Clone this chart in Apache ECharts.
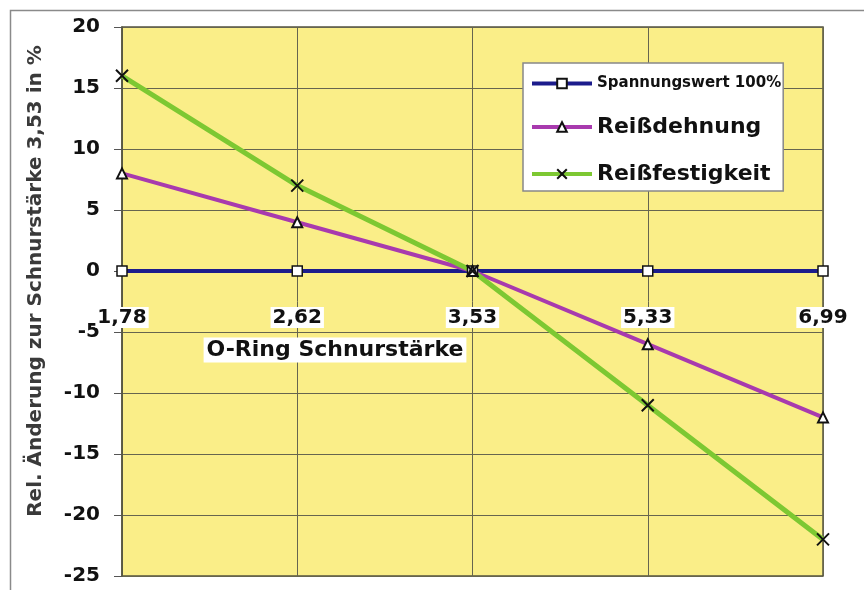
<!DOCTYPE html>
<html>
<head>
<meta charset="utf-8">
<script src="https://cdn.jsdelivr.net/npm/echarts@6/dist/echarts.min.js"></script>
<style>
  html, body { margin: 0; padding: 0; background: #ffffff; overflow: hidden; }
  #chart { width: 864px; height: 590px; }
</style>
</head>
<body>
<div id="chart"></div>
<script>
// O-ring cord diameters (mm) on the category axis
const categories = ['1,78', '2,62', '3,53', '5,33', '6,99'];

// Relative change versus the 3,53 mm cord, in %
const spannungswert = [0, 0, 0, 0, 0];
const reissdehnung = [8, 4, 0, -6, -12];
const reissfestigkeit = [16, 7, 0, -11, -22];

// Value axis range and step
const yMin = -25;
const yMax = 20;
const yStep = 5;

const seriesNames = ['Spannungswert 100%', 'Reißdehnung', 'Reißfestigkeit'];

const FONT = 'DejaVu Sans';
const crossPath = 'path://M0,0L10,10M10,0L0,10';
const gridLineColor = '#66654f';

// plot rectangle
const GRID_TOP = 27;
const GRID_BOTTOM = 14;
const CHART_H = 590;
const plotH = CHART_H - GRID_TOP - GRID_BOTTOM;
// distance from the bottom edge of the plot up to the zero line
const zeroLift = plotH * (0 - yMin) / (yMax - yMin);

const chart = echarts.init(document.getElementById('chart'), null, { renderer: 'canvas' });

chart.setOption({
  backgroundColor: '#ffffff',
  animation: false,
  graphic: [
    // outer frame (top and left edges)
    {
      type: 'polyline',
      shape: { points: [[10.5, 600], [10.5, 10.5], [870, 10.5]] },
      style: { fill: 'none', stroke: '#8a8a8a', lineWidth: 1.5 },
      z: 0
    },
    {
      type: 'text',
      x: 36,
      y: 281,
      rotation: Math.PI / 2,
      style: {
        text: 'Rel. Änderung zur Schnurstärke 3,53 in %',
        font: 'bold 20px "' + FONT + '"',
        fill: '#3a3a3a',
        align: 'center',
        verticalAlign: 'middle'
      },
      z: 10
    },
    {
      type: 'text',
      x: 335,
      y: 350,
      style: {
        text: 'O-Ring Schnurstärke',
        font: 'bold 22px "' + FONT + '"',
        fill: '#111111',
        align: 'center',
        verticalAlign: 'middle',
        backgroundColor: '#ffffff',
        padding: [2, 3, 1, 3]
      },
      z: 10
    }
  ],
  grid: {
    left: 122,
    right: 41,
    top: GRID_TOP,
    bottom: GRID_BOTTOM,
    outerBoundsMode: 'none',
    containLabel: false,
    show: true,
    backgroundColor: '#faee88',
    borderColor: '#55543f',
    borderWidth: 1.5
  },
  legend: {
    orient: 'vertical',
    left: 523,
    top: 63,
    padding: [13, 2, 6, 7],
    itemGap: 25,
    itemWidth: 60,
    itemHeight: 12,
    backgroundColor: '#ffffff',
    borderColor: '#888888',
    borderWidth: 1.5,
    lineStyle: { width: 4 },
    data: seriesNames,
    formatter: function (name) {
      return name === seriesNames[0] ? '{s|' + name + '}' : '{b|' + name + '}';
    },
    textStyle: {
      color: '#111111',
      rich: {
        s: { fontFamily: FONT, fontWeight: 'bold', fontSize: 15, color: '#111111' },
        b: { fontFamily: FONT, fontWeight: 'bold', fontSize: 22, color: '#111111' }
      }
    }
  },
  xAxis: {
    type: 'category',
    data: categories,
    boundaryGap: false,
    position: 'bottom',
    // lift the axis from the plot bottom to the zero line
    offset: -zeroLift,
    axisLine: { show: true, onZero: false, lineStyle: { color: '#1c1c8c', width: 1 } },
    axisTick: { show: false },
    axisLabel: {
      margin: 36,
      fontFamily: FONT,
      fontWeight: 'bold',
      fontSize: 20,
      color: '#111111',
      backgroundColor: '#ffffff',
      padding: [1, 2, 0, 2]
    },
    splitLine: { show: true, lineStyle: { color: gridLineColor, width: 1 } }
  },
  yAxis: {
    type: 'value',
    min: yMin,
    max: yMax,
    interval: yStep,
    axisLine: { show: true, onZero: false, lineStyle: { color: '#55543f', width: 1.5 } },
    axisTick: { show: true, length: 8, lineStyle: { color: '#555555' } },
    axisLabel: {
      margin: 22,
      fontFamily: FONT,
      fontWeight: 'bold',
      fontSize: 20,
      color: '#111111'
    },
    splitLine: { show: true, lineStyle: { color: gridLineColor, width: 1 } }
  },
  series: [
    {
      name: seriesNames[0],
      type: 'line',
      data: spannungswert,
      symbol: 'rect',
      symbolSize: 10,
      lineStyle: { color: '#1c1c8c', width: 4 },
      itemStyle: { color: '#ffffff', borderColor: '#111111', borderWidth: 1.5 },
      emphasis: { disabled: true },
      z: 3
    },
    {
      name: seriesNames[1],
      type: 'line',
      data: reissdehnung,
      symbol: 'triangle',
      symbolSize: 10,
      lineStyle: { color: '#a83aae', width: 4 },
      itemStyle: { color: '#ffffff', borderColor: '#111111', borderWidth: 2 },
      emphasis: { disabled: true },
      z: 3
    },
    {
      name: seriesNames[2],
      type: 'line',
      data: reissfestigkeit,
      symbol: crossPath,
      symbolSize: 12,
      lineStyle: { color: '#7dc832', width: 5 },
      itemStyle: { color: 'none', borderColor: '#111111', borderWidth: 2 },
      emphasis: { disabled: true },
      z: 3
    }
  ]
});
</script>
</body>
</html>
